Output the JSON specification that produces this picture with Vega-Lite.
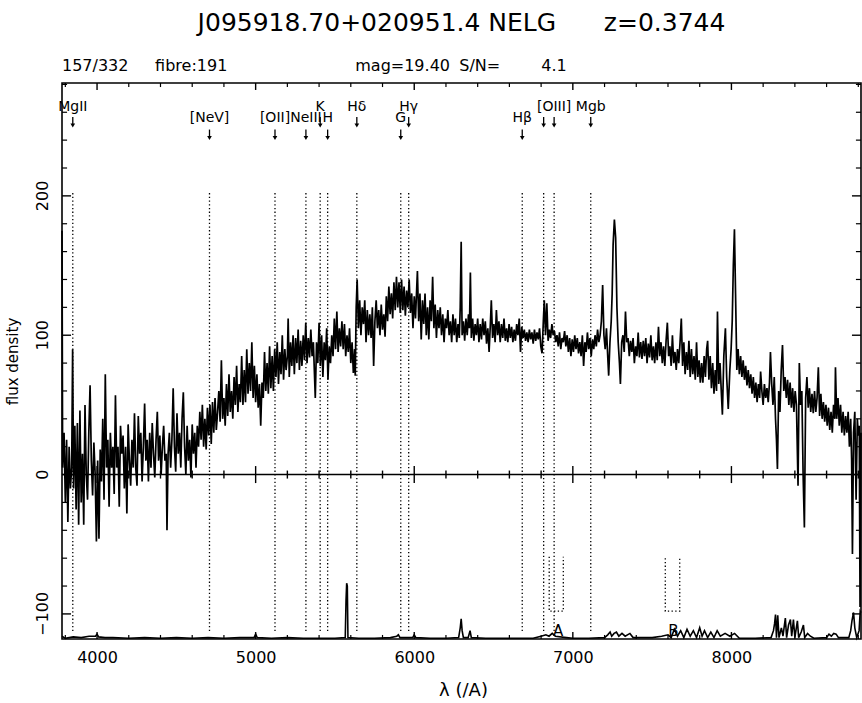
{
"$schema": "https://vega.github.io/schema/vega-lite/v6.json",
"width": 799, "height": 556,
"autosize": {"type": "none"},
"padding": {"left": 62, "top": 83, "right": 1, "bottom": 64},
"background": "white",
"title": {"text": "J095918.70+020951.4 NELG\u00a0\u00a0\u00a0\u00a0\u00a0\u00a0z=0.3744", "anchor": "middle", "frame": "group", "fontSize": 25, "font": "DejaVu Sans", "fontWeight": "normal", "color": "black", "offset": 22},
"config": {
 "view": {"stroke": "black", "strokeWidth": 1.6},
 "axis": {"grid": false, "domain": false, "tickSize": 0, "labelColor": "black", "labelFont": "DejaVu Sans", "labelFontSize": 16, "titleColor": "black", "titleFont": "DejaVu Sans", "titleFontWeight": "normal", "labelOverlap": false, "labelFlush": false},
 "text": {"font": "DejaVu Sans", "color": "black"},
 "rule": {"color": "black"}
},
"datasets": {
 "spec": [
{"w":3779,"f":175},{"w":3783,"f":5},{"w":3792,"f":30},{"w":3800,"f":-20},{"w":3808,"f":25},{"w":3816,"f":-34},{"w":3824,"f":20},{"w":3832,"f":-10},{"w":3840,"f":5},{"w":3846,"f":90},{"w":3852,"f":-10},{"w":3860,"f":35},{"w":3868,"f":-25},{"w":3876,"f":37},{"w":3884,"f":-36},{"w":3892,"f":46},{"w":3900,"f":-20},{"w":3908,"f":15},{"w":3916,"f":-36},{"w":3924,"f":50},{"w":3932,"f":0},{"w":3940,"f":-18},{"w":3948,"f":30},{"w":3956,"f":64},{"w":3964,"f":10},{"w":3972,"f":-15},{"w":3980,"f":23},{"w":3988,"f":0},{"w":3996,"f":-48},{"w":4004,"f":10},{"w":4012,"f":-46},{"w":4020,"f":18},{"w":4028,"f":-5},{"w":4036,"f":40},{"w":4044,"f":-18},{"w":4052,"f":72},{"w":4060,"f":5},{"w":4068,"f":25},{"w":4076,"f":-23},{"w":4084,"f":30},{"w":4092,"f":5},{"w":4100,"f":20},{"w":4108,"f":-14},{"w":4116,"f":57},{"w":4124,"f":5},{"w":4132,"f":20},{"w":4140,"f":-23},{"w":4148,"f":35},{"w":4156,"f":15},{"w":4164,"f":28},{"w":4172,"f":-10},{"w":4180,"f":20},{"w":4188,"f":-28},{"w":4196,"f":36},{"w":4204,"f":10},{"w":4212,"f":-8},{"w":4220,"f":25},{"w":4228,"f":5},{"w":4236,"f":44},{"w":4244,"f":5},{"w":4252,"f":-8},{"w":4260,"f":42},{"w":4268,"f":15},{"w":4276,"f":30},{"w":4284,"f":-5},{"w":4292,"f":20},{"w":4300,"f":51},{"w":4308,"f":10},{"w":4316,"f":25},{"w":4324,"f":-5},{"w":4332,"f":30},{"w":4340,"f":5},{"w":4348,"f":37},{"w":4356,"f":15},{"w":4364,"f":-2},{"w":4372,"f":25},{"w":4380,"f":45},{"w":4388,"f":10},{"w":4396,"f":28},{"w":4404,"f":0},{"w":4412,"f":20},{"w":4420,"f":35},{"w":4428,"f":10},{"w":4436,"f":15},{"w":4441,"f":-40},{"w":4448,"f":15},{"w":4456,"f":30},{"w":4464,"f":5},{"w":4472,"f":25},{"w":4480,"f":62},{"w":4488,"f":20},{"w":4496,"f":2},{"w":4504,"f":44},{"w":4512,"f":15},{"w":4520,"f":30},{"w":4528,"f":5},{"w":4536,"f":40},{"w":4544,"f":59},{"w":4552,"f":20},{"w":4560,"f":0},{"w":4568,"f":35},{"w":4576,"f":10},{"w":4584,"f":25},{"w":4592,"f":-2},{"w":4600,"f":36},{"w":4608,"f":15},{"w":4616,"f":30},{"w":4624,"f":5},{"w":4632,"f":35},{"w":4640,"f":20},{"w":4648,"f":45},{"w":4656,"f":25},{"w":4664,"f":50},{"w":4672,"f":20},{"w":4680,"f":40},{"w":4688,"f":18},{"w":4696,"f":48},{"w":4704,"f":28},{"w":4712,"f":50},{"w":4720,"f":22},{"w":4728,"f":52},{"w":4736,"f":30},{"w":4744,"f":55},{"w":4752,"f":32},{"w":4760,"f":45},{"w":4768,"f":60},{"w":4776,"f":38},{"w":4784,"f":82},{"w":4792,"f":40},{"w":4800,"f":55},{"w":4808,"f":35},{"w":4816,"f":65},{"w":4824,"f":42},{"w":4832,"f":72},{"w":4840,"f":45},{"w":4848,"f":60},{"w":4856,"f":40},{"w":4864,"f":70},{"w":4872,"f":50},{"w":4880,"f":78},{"w":4888,"f":45},{"w":4896,"f":65},{"w":4904,"f":52},{"w":4912,"f":85},{"w":4920,"f":50},{"w":4928,"f":75},{"w":4936,"f":52},{"w":4944,"f":90},{"w":4952,"f":58},{"w":4960,"f":80},{"w":4968,"f":60},{"w":4976,"f":95},{"w":4984,"f":55},{"w":4992,"f":78},{"w":5000,"f":52},{"w":5008,"f":72},{"w":5016,"f":48},{"w":5024,"f":65},{"w":5032,"f":35},{"w":5040,"f":66},{"w":5048,"f":55},{"w":5056,"f":88},{"w":5064,"f":60},{"w":5072,"f":80},{"w":5080,"f":58},{"w":5088,"f":92},{"w":5096,"f":62},{"w":5104,"f":85},{"w":5112,"f":60},{"w":5120,"f":90},{"w":5128,"f":70},{"w":5136,"f":95},{"w":5144,"f":65},{"w":5152,"f":88},{"w":5160,"f":72},{"w":5168,"f":100},{"w":5176,"f":68},{"w":5184,"f":90},{"w":5192,"f":75},{"w":5200,"f":85},{"w":5205,"f":112},{"w":5212,"f":70},{"w":5220,"f":95},{"w":5228,"f":78},{"w":5236,"f":100},{"w":5244,"f":72},{"w":5252,"f":98},{"w":5260,"f":80},{"w":5268,"f":104},{"w":5276,"f":75},{"w":5284,"f":96},{"w":5292,"f":78},{"w":5300,"f":100},{"w":5308,"f":82},{"w":5316,"f":109},{"w":5324,"f":80},{"w":5332,"f":98},{"w":5340,"f":84},{"w":5348,"f":104},{"w":5356,"f":85},{"w":5364,"f":95},{"w":5370,"f":75},{"w":5376,"f":55},{"w":5384,"f":95},{"w":5392,"f":80},{"w":5400,"f":109},{"w":5408,"f":78},{"w":5416,"f":100},{"w":5424,"f":70},{"w":5432,"f":95},{"w":5440,"f":82},{"w":5448,"f":105},{"w":5456,"f":68},{"w":5464,"f":92},{"w":5472,"f":80},{"w":5480,"f":100},{"w":5488,"f":85},{"w":5496,"f":112},{"w":5504,"f":90},{"w":5512,"f":117},{"w":5520,"f":88},{"w":5528,"f":105},{"w":5536,"f":92},{"w":5544,"f":110},{"w":5552,"f":90},{"w":5560,"f":108},{"w":5568,"f":85},{"w":5576,"f":100},{"w":5584,"f":88},{"w":5592,"f":105},{"w":5600,"f":80},{"w":5608,"f":95},{"w":5616,"f":73},{"w":5624,"f":90},{"w":5628,"f":71},{"w":5634,"f":120},{"w":5640,"f":140},{"w":5648,"f":105},{"w":5656,"f":125},{"w":5664,"f":100},{"w":5672,"f":120},{"w":5680,"f":108},{"w":5688,"f":125},{"w":5696,"f":95},{"w":5704,"f":118},{"w":5712,"f":100},{"w":5720,"f":115},{"w":5728,"f":98},{"w":5736,"f":120},{"w":5744,"f":78},{"w":5752,"f":110},{"w":5760,"f":125},{"w":5768,"f":105},{"w":5776,"f":118},{"w":5784,"f":100},{"w":5792,"f":122},{"w":5800,"f":104},{"w":5808,"f":115},{"w":5816,"f":99},{"w":5824,"f":128},{"w":5832,"f":110},{"w":5840,"f":135},{"w":5848,"f":115},{"w":5856,"f":130},{"w":5864,"f":112},{"w":5872,"f":138},{"w":5880,"f":118},{"w":5888,"f":142},{"w":5896,"f":120},{"w":5904,"f":138},{"w":5912,"f":116},{"w":5920,"f":140},{"w":5928,"f":118},{"w":5936,"f":135},{"w":5944,"f":114},{"w":5952,"f":132},{"w":5960,"f":120},{"w":5968,"f":140},{"w":5976,"f":116},{"w":5984,"f":130},{"w":5992,"f":105},{"w":6000,"f":128},{"w":6008,"f":112},{"w":6016,"f":135},{"w":6020,"f":146},{"w":6028,"f":110},{"w":6036,"f":130},{"w":6044,"f":97},{"w":6052,"f":125},{"w":6060,"f":108},{"w":6068,"f":130},{"w":6076,"f":100},{"w":6084,"f":120},{"w":6092,"f":97},{"w":6100,"f":125},{"w":6108,"f":110},{"w":6116,"f":142},{"w":6124,"f":105},{"w":6132,"f":122},{"w":6140,"f":98},{"w":6148,"f":118},{"w":6156,"f":105},{"w":6164,"f":120},{"w":6172,"f":100},{"w":6180,"f":115},{"w":6188,"f":95},{"w":6196,"f":112},{"w":6204,"f":105},{"w":6212,"f":118},{"w":6220,"f":100},{"w":6228,"f":110},{"w":6236,"f":95},{"w":6244,"f":115},{"w":6252,"f":100},{"w":6260,"f":112},{"w":6268,"f":95},{"w":6276,"f":108},{"w":6284,"f":98},{"w":6290,"f":120},{"w":6296,"f":167},{"w":6302,"f":100},{"w":6310,"f":110},{"w":6318,"f":96},{"w":6326,"f":112},{"w":6334,"f":100},{"w":6342,"f":115},{"w":6348,"f":105},{"w":6354,"f":145},{"w":6360,"f":98},{"w":6368,"f":112},{"w":6376,"f":96},{"w":6384,"f":108},{"w":6392,"f":100},{"w":6400,"f":112},{"w":6408,"f":95},{"w":6416,"f":108},{"w":6424,"f":97},{"w":6432,"f":112},{"w":6440,"f":100},{"w":6448,"f":110},{"w":6456,"f":94},{"w":6464,"f":105},{"w":6472,"f":88},{"w":6480,"f":108},{"w":6486,"f":125},{"w":6494,"f":98},{"w":6502,"f":108},{"w":6510,"f":95},{"w":6518,"f":118},{"w":6526,"f":100},{"w":6534,"f":110},{"w":6542,"f":95},{"w":6550,"f":108},{"w":6558,"f":98},{"w":6566,"f":112},{"w":6574,"f":96},{"w":6582,"f":105},{"w":6590,"f":95},{"w":6598,"f":108},{"w":6606,"f":98},{"w":6614,"f":106},{"w":6622,"f":95},{"w":6630,"f":104},{"w":6638,"f":96},{"w":6646,"f":108},{"w":6654,"f":100},{"w":6662,"f":112},{"w":6670,"f":88},{"w":6678,"f":106},{"w":6686,"f":98},{"w":6694,"f":104},{"w":6702,"f":96},{"w":6710,"f":102},{"w":6718,"f":95},{"w":6726,"f":104},{"w":6734,"f":97},{"w":6742,"f":102},{"w":6750,"f":94},{"w":6758,"f":104},{"w":6766,"f":96},{"w":6774,"f":102},{"w":6782,"f":97},{"w":6790,"f":105},{"w":6798,"f":92},{"w":6806,"f":87},{"w":6814,"f":110},{"w":6820,"f":125},{"w":6828,"f":100},{"w":6836,"f":123},{"w":6844,"f":96},{"w":6852,"f":104},{"w":6860,"f":98},{"w":6868,"f":108},{"w":6876,"f":100},{"w":6884,"f":103},{"w":6892,"f":95},{"w":6900,"f":100},{"w":6908,"f":92},{"w":6916,"f":102},{"w":6924,"f":90},{"w":6932,"f":98},{"w":6940,"f":95},{"w":6948,"f":103},{"w":6956,"f":92},{"w":6964,"f":100},{"w":6972,"f":88},{"w":6980,"f":98},{"w":6988,"f":85},{"w":6996,"f":97},{"w":7004,"f":88},{"w":7012,"f":100},{"w":7020,"f":90},{"w":7028,"f":98},{"w":7036,"f":87},{"w":7044,"f":95},{"w":7052,"f":85},{"w":7060,"f":100},{"w":7068,"f":78},{"w":7076,"f":95},{"w":7084,"f":88},{"w":7092,"f":102},{"w":7100,"f":90},{"w":7108,"f":98},{"w":7116,"f":85},{"w":7124,"f":97},{"w":7132,"f":90},{"w":7140,"f":100},{"w":7148,"f":92},{"w":7156,"f":104},{"w":7164,"f":95},{"w":7172,"f":100},{"w":7180,"f":110},{"w":7188,"f":136},{"w":7196,"f":100},{"w":7204,"f":90},{"w":7212,"f":105},{"w":7220,"f":85},{"w":7226,"f":71},{"w":7234,"f":95},{"w":7242,"f":110},{"w":7248,"f":130},{"w":7254,"f":165},{"w":7262,"f":183},{"w":7270,"f":170},{"w":7278,"f":120},{"w":7286,"f":95},{"w":7294,"f":80},{"w":7300,"f":65},{"w":7308,"f":95},{"w":7316,"f":100},{"w":7324,"f":88},{"w":7332,"f":117},{"w":7340,"f":95},{"w":7348,"f":98},{"w":7356,"f":85},{"w":7364,"f":96},{"w":7372,"f":88},{"w":7380,"f":98},{"w":7388,"f":80},{"w":7396,"f":92},{"w":7404,"f":85},{"w":7412,"f":102},{"w":7420,"f":84},{"w":7428,"f":95},{"w":7436,"f":83},{"w":7444,"f":96},{"w":7452,"f":85},{"w":7460,"f":98},{"w":7468,"f":80},{"w":7476,"f":94},{"w":7484,"f":84},{"w":7492,"f":100},{"w":7500,"f":82},{"w":7508,"f":92},{"w":7516,"f":80},{"w":7524,"f":95},{"w":7532,"f":82},{"w":7540,"f":106},{"w":7548,"f":85},{"w":7556,"f":95},{"w":7564,"f":80},{"w":7572,"f":92},{"w":7580,"f":78},{"w":7588,"f":96},{"w":7596,"f":109},{"w":7604,"f":85},{"w":7612,"f":92},{"w":7620,"f":78},{"w":7628,"f":100},{"w":7636,"f":80},{"w":7644,"f":88},{"w":7652,"f":75},{"w":7660,"f":90},{"w":7668,"f":80},{"w":7676,"f":95},{"w":7684,"f":112},{"w":7692,"f":78},{"w":7700,"f":95},{"w":7708,"f":72},{"w":7716,"f":88},{"w":7724,"f":75},{"w":7732,"f":96},{"w":7740,"f":70},{"w":7748,"f":90},{"w":7756,"f":72},{"w":7764,"f":85},{"w":7772,"f":68},{"w":7780,"f":95},{"w":7788,"f":70},{"w":7796,"f":82},{"w":7804,"f":66},{"w":7812,"f":80},{"w":7820,"f":66},{"w":7828,"f":85},{"w":7836,"f":70},{"w":7844,"f":90},{"w":7850,"f":96},{"w":7858,"f":68},{"w":7866,"f":85},{"w":7874,"f":62},{"w":7882,"f":80},{"w":7890,"f":58},{"w":7898,"f":75},{"w":7906,"f":60},{"w":7912,"f":117},{"w":7920,"f":65},{"w":7928,"f":80},{"w":7936,"f":60},{"w":7943,"f":43},{"w":7952,"f":85},{"w":7962,"f":105},{"w":7970,"f":70},{"w":7980,"f":47},{"w":7990,"f":75},{"w":7998,"f":90},{"w":8005,"f":110},{"w":8012,"f":150},{"w":8019,"f":176},{"w":8026,"f":130},{"w":8034,"f":75},{"w":8042,"f":90},{"w":8050,"f":72},{"w":8058,"f":85},{"w":8066,"f":70},{"w":8074,"f":82},{"w":8082,"f":68},{"w":8090,"f":78},{"w":8098,"f":64},{"w":8106,"f":75},{"w":8114,"f":62},{"w":8122,"f":72},{"w":8130,"f":58},{"w":8138,"f":70},{"w":8146,"f":55},{"w":8154,"f":66},{"w":8162,"f":52},{"w":8170,"f":65},{"w":8178,"f":55},{"w":8184,"f":74},{"w":8192,"f":60},{"w":8200,"f":50},{"w":8208,"f":65},{"w":8216,"f":55},{"w":8224,"f":62},{"w":8232,"f":52},{"w":8240,"f":66},{"w":8246,"f":88},{"w":8254,"f":65},{"w":8262,"f":50},{"w":8270,"f":70},{"w":8278,"f":40},{"w":8284,"f":25},{"w":8290,"f":4},{"w":8298,"f":60},{"w":8306,"f":45},{"w":8314,"f":75},{"w":8322,"f":93},{"w":8330,"f":60},{"w":8338,"f":70},{"w":8346,"f":55},{"w":8354,"f":68},{"w":8362,"f":50},{"w":8370,"f":66},{"w":8378,"f":48},{"w":8386,"f":62},{"w":8394,"f":45},{"w":8402,"f":60},{"w":8410,"f":50},{"w":8420,"f":-8},{"w":8428,"f":80},{"w":8436,"f":50},{"w":8444,"f":60},{"w":8452,"f":0},{"w":8460,"f":-38},{"w":8468,"f":55},{"w":8476,"f":70},{"w":8484,"f":48},{"w":8492,"f":62},{"w":8500,"f":45},{"w":8508,"f":58},{"w":8516,"f":44},{"w":8524,"f":60},{"w":8532,"f":45},{"w":8540,"f":55},{"w":8548,"f":77},{"w":8556,"f":42},{"w":8564,"f":58},{"w":8572,"f":40},{"w":8580,"f":52},{"w":8588,"f":38},{"w":8596,"f":50},{"w":8604,"f":35},{"w":8612,"f":48},{"w":8620,"f":32},{"w":8628,"f":45},{"w":8636,"f":30},{"w":8644,"f":50},{"w":8652,"f":40},{"w":8656,"f":77},{"w":8664,"f":40},{"w":8672,"f":55},{"w":8680,"f":35},{"w":8688,"f":50},{"w":8696,"f":30},{"w":8704,"f":45},{"w":8712,"f":28},{"w":8720,"f":42},{"w":8728,"f":30},{"w":8736,"f":45},{"w":8744,"f":20},{"w":8752,"f":40},{"w":8758,"f":10},{"w":8763,"f":-57},{"w":8770,"f":30},{"w":8778,"f":45},{"w":8786,"f":-18},{"w":8794,"f":40},{"w":8800,"f":28},{"w":8806,"f":35},{"w":8811,"f":-95},{"w":8817,"f":30}
 ],
 "sky": [
{"w":3779,"s":-116},{"w":3800,"s":-117.5},{"w":3850,"s":-116.5},{"w":3900,"s":-117},{"w":3950,"s":-116},{"w":3990,"s":-116},{"w":4000,"s":-114.5},{"w":4010,"s":-116.5},{"w":4050,"s":-117},{"w":4100,"s":-117},{"w":4200,"s":-117.5},{"w":4300,"s":-117},{"w":4400,"s":-117.5},{"w":4500,"s":-117},{"w":4600,"s":-117.5},{"w":4700,"s":-117},{"w":4800,"s":-117.5},{"w":4900,"s":-117},{"w":4990,"s":-117},{"w":5000,"s":-114.5},{"w":5010,"s":-117},{"w":5100,"s":-117.5},{"w":5200,"s":-117},{"w":5300,"s":-117.5},{"w":5400,"s":-117.5},{"w":5500,"s":-117.5},{"w":5565,"s":-117},{"w":5570,"s":-90},{"w":5574,"s":-78},{"w":5578,"s":-80},{"w":5582,"s":-117},{"w":5650,"s":-117.5},{"w":5750,"s":-117.5},{"w":5850,"s":-117},{"w":5890,"s":-116},{"w":5900,"s":-115},{"w":5910,"s":-117},{"w":5990,"s":-117},{"w":6000,"s":-115},{"w":6010,"s":-117},{"w":6100,"s":-117.5},{"w":6200,"s":-117.5},{"w":6280,"s":-117},{"w":6290,"s":-110},{"w":6296,"s":-103.5},{"w":6302,"s":-112},{"w":6310,"s":-117},{"w":6340,"s":-117},{"w":6352,"s":-112},{"w":6360,"s":-117},{"w":6450,"s":-117.5},{"w":6550,"s":-117.5},{"w":6650,"s":-117.5},{"w":6750,"s":-117.5},{"w":6800,"s":-116},{"w":6830,"s":-115},{"w":6850,"s":-116},{"w":6870,"s":-114},{"w":6890,"s":-116},{"w":6960,"s":-117},{"w":7000,"s":-117.5},{"w":7100,"s":-117.5},{"w":7200,"s":-117},{"w":7220,"s":-115},{"w":7235,"s":-113},{"w":7245,"s":-116},{"w":7260,"s":-114},{"w":7275,"s":-113},{"w":7290,"s":-116},{"w":7310,"s":-114},{"w":7330,"s":-116},{"w":7360,"s":-114},{"w":7380,"s":-117},{"w":7500,"s":-117},{"w":7560,"s":-116},{"w":7600,"s":-115},{"w":7620,"s":-117},{"w":7640,"s":-111},{"w":7660,"s":-116},{"w":7680,"s":-112},{"w":7700,"s":-117},{"w":7720,"s":-111},{"w":7740,"s":-116},{"w":7760,"s":-112},{"w":7780,"s":-117},{"w":7800,"s":-110},{"w":7815,"s":-116},{"w":7830,"s":-112},{"w":7850,"s":-117},{"w":7870,"s":-113},{"w":7890,"s":-117},{"w":7910,"s":-112},{"w":7930,"s":-116},{"w":7960,"s":-114},{"w":7990,"s":-116},{"w":8020,"s":-114},{"w":8050,"s":-117.5},{"w":8150,"s":-117.5},{"w":8250,"s":-117},{"w":8265,"s":-112},{"w":8272,"s":-107},{"w":8278,"s":-100.5},{"w":8284,"s":-117},{"w":8292,"s":-101},{"w":8300,"s":-117},{"w":8315,"s":-110},{"w":8325,"s":-116},{"w":8340,"s":-103},{"w":8348,"s":-117},{"w":8360,"s":-108},{"w":8372,"s":-104},{"w":8380,"s":-116},{"w":8391,"s":-104},{"w":8400,"s":-117},{"w":8416,"s":-105},{"w":8424,"s":-117},{"w":8440,"s":-113},{"w":8454,"s":-108},{"w":8462,"s":-117},{"w":8480,"s":-114},{"w":8498,"s":-116},{"w":8520,"s":-117.5},{"w":8600,"s":-117},{"w":8615,"s":-114.5},{"w":8630,"s":-116},{"w":8645,"s":-114},{"w":8660,"s":-114.5},{"w":8675,"s":-117},{"w":8740,"s":-117},{"w":8752,"s":-112},{"w":8760,"s":-105},{"w":8770,"s":-99},{"w":8778,"s":-110},{"w":8790,"s":-117},{"w":8805,"s":-112},{"w":8812,"s":-98},{"w":8817,"s":-99}
 ],
 "zt": [{"t":3800},{"t":4000},{"t":4200},{"t":4400},{"t":4600},{"t":4800},{"t":5000},{"t":5200},{"t":5400},{"t":5600},{"t":5800},{"t":6000},{"t":6200},{"t":6400},{"t":6600},{"t":6800},{"t":7000},{"t":7200},{"t":7400},{"t":7600},{"t":7800},{"t":8000},{"t":8200},{"t":8400},{"t":8600},{"t":8800}],
 "yt": [{"v":-100},{"v":-80},{"v":-60},{"v":-40},{"v":-20},{"v":0},{"v":20},{"v":40},{"v":60},{"v":80},{"v":100},{"v":120},{"v":140},{"v":160},{"v":180},{"v":200},{"v":220},{"v":240},{"v":260},{"v":280}],
 "lines": [{"w":3847},{"w":4709},{"w":5122},{"w":5317},{"w":5407},{"w":5454},{"w":5638},{"w":5915},{"w":5965},{"w":6681},{"w":6816},{"w":6882},{"w":7113}],
 "labels": [{"lab":"MgII","w":3847,"y":264},{"lab":"[NeV]","w":4709,"y":256},{"lab":"[OII]","w":5122,"y":256},{"lab":"NeIII","w":5317,"y":256},{"lab":"K","w":5407,"y":264},{"lab":"H","w":5454,"y":256},{"lab":"Hδ","w":5638,"y":264},{"lab":"G","w":5915,"y":256},{"lab":"Hγ","w":5965,"y":264},{"lab":"Hβ","w":6681,"y":256},{"lab":"[OIII]","w":6882,"y":264},{"lab":"Mgb","w":7113,"y":264}],
 "arrows": [{"w":3847,"y":253},{"w":4709,"y":244},{"w":5122,"y":244},{"w":5317,"y":244},{"w":5407,"y":253},{"w":5454,"y":244},{"w":5638,"y":253},{"w":5915,"y":244},{"w":5965,"y":253},{"w":6681,"y":244},{"w":6816,"y":253},{"w":6882,"y":253},{"w":7113,"y":253}],
 "bands": [{"b":"A","k":1,"w":6851,"f":-59},{"b":"A","k":2,"w":6851,"f":-98},{"b":"A","k":3,"w":6940,"f":-98},{"b":"A","k":4,"w":6940,"f":-59},{"b":"B","k":1,"w":7583,"f":-60},{"b":"B","k":2,"w":7583,"f":-98},{"b":"B","k":3,"w":7674,"f":-98},{"b":"B","k":4,"w":7674,"f":-60}],
 "bandlab": [{"lab":"A","w":6908,"y":-112.5},{"lab":"B","w":7634,"y":-112}],
 "header": [{"txt":"157/332","w":3779,"y":293},{"txt":"fibre:191","w":4366,"y":293},{"txt":"mag=19.40","w":5628,"y":293},{"txt":"S/N=","w":6284,"y":293},{"txt":"4.1","w":6801,"y":293}]
},
"layer": [
 {"data": {"name": "spec"}, "mark": {"type": "line", "color": "black", "strokeWidth": 1.7},
  "encoding": {
   "x": {"field": "w", "type": "quantitative", "scale": {"domain": [3779, 8817], "nice": false, "zero": false},
     "axis": {"orient": "bottom", "values": [4000,5000,6000,7000,8000], "format": "d", "ticks": false, "labelPadding": 18, "labelBaseline": "middle", "title": "λ (/A)", "titleFontSize": 18, "titleX": 401, "titleY": 51, "titleBaseline": "middle", "titleAlign": "center"}},
   "y": {"field": "f", "type": "quantitative", "scale": {"domain": [-118, 281], "nice": false, "zero": false},
     "axis": {"orient": "left", "values": [0], "labels": false, "ticks": false, "title": "flux density", "titleFontSize": 15, "titleX": -50, "titleY": 278, "titleAngle": 270, "titleBaseline": "middle", "titleAlign": "center"}}
  }},
 {"data": {"name": "sky"}, "mark": {"type": "line", "color": "black", "strokeWidth": 1.6},
  "encoding": {
   "x": {"field": "w", "type": "quantitative", "axis": null},
   "y": {"field": "s", "type": "quantitative", "axis": null}
  }},
 {"data": {"values": [{}]}, "mark": {"type": "rule", "color": "black", "strokeWidth": 1.5},
  "encoding": {"y": {"datum": 0, "axis": null}}},
 {"data": {"name": "zt"}, "mark": {"type": "tick", "orient": "vertical", "color": "black", "thickness": 1.4, "opacity": 1},
  "encoding": {"x": {"field": "t", "type": "quantitative", "axis": null}, "y": {"datum": 0, "axis": null},
   "size": {"condition": {"test": "datum.t % 1000 === 0", "value": 17}, "value": 8}}},
 {"data": {"name": "zt"}, "transform": [{"filter": "datum.t % 1000 === 0"}], "mark": {"type": "rule", "strokeWidth": 1.4},
  "encoding": {"x": {"field": "t", "type": "quantitative", "axis": null}, "y": {"datum": -118, "axis": null}, "y2": {"datum": -113}}},
 {"data": {"name": "zt"}, "transform": [{"filter": "datum.t % 1000 !== 0"}], "mark": {"type": "rule", "strokeWidth": 1.2},
  "encoding": {"x": {"field": "t", "type": "quantitative", "axis": null}, "y": {"datum": -118, "axis": null}, "y2": {"datum": -115.1}}},
 {"data": {"name": "zt"}, "transform": [{"filter": "datum.t % 1000 === 0"}], "mark": {"type": "rule", "strokeWidth": 1.4},
  "encoding": {"x": {"field": "t", "type": "quantitative", "axis": null}, "y": {"datum": 281, "axis": null}, "y2": {"datum": 276}}},
 {"data": {"name": "zt"}, "transform": [{"filter": "datum.t % 1000 !== 0"}], "mark": {"type": "rule", "strokeWidth": 1.2},
  "encoding": {"x": {"field": "t", "type": "quantitative", "axis": null}, "y": {"datum": 281, "axis": null}, "y2": {"datum": 278.1}}},
 {"data": {"name": "yt"}, "transform": [{"filter": "datum.v % 100 === 0"}], "mark": {"type": "rule", "strokeWidth": 1.4},
  "encoding": {"y": {"field": "v", "type": "quantitative", "axis": null}, "x": {"datum": 3779, "axis": null}, "x2": {"datum": 3836}}},
 {"data": {"name": "yt"}, "transform": [{"filter": "datum.v % 100 !== 0"}], "mark": {"type": "rule", "strokeWidth": 1.2},
  "encoding": {"y": {"field": "v", "type": "quantitative", "axis": null}, "x": {"datum": 3779, "axis": null}, "x2": {"datum": 3811}}},
 {"data": {"name": "yt"}, "transform": [{"filter": "datum.v % 100 === 0"}], "mark": {"type": "rule", "strokeWidth": 1.4},
  "encoding": {"y": {"field": "v", "type": "quantitative", "axis": null}, "x": {"datum": 8817, "axis": null}, "x2": {"datum": 8760}}},
 {"data": {"name": "yt"}, "transform": [{"filter": "datum.v % 100 !== 0"}], "mark": {"type": "rule", "strokeWidth": 1.2},
  "encoding": {"y": {"field": "v", "type": "quantitative", "axis": null}, "x": {"datum": 8817, "axis": null}, "x2": {"datum": 8785}}},
 {"data": {"name": "yt"}, "transform": [{"filter": "datum.v % 100 === 0"}], "mark": {"type": "text", "angle": 270, "fontSize": 16, "align": "center", "baseline": "middle", "xOffset": -19},
  "encoding": {"y": {"field": "v", "type": "quantitative", "axis": null}, "x": {"datum": 3779, "axis": null}, "text": {"field": "v", "type": "quantitative", "format": "d"}}},
 {"data": {"name": "lines"}, "mark": {"type": "rule", "color": "black", "strokeWidth": 1.3, "strokeDash": [1.3, 2.4]},
  "encoding": {"x": {"field": "w", "type": "quantitative", "axis": null}, "y": {"datum": 202, "axis": null}, "y2": {"datum": -114}}},
 {"data": {"name": "bands"}, "mark": {"type": "line", "color": "black", "strokeWidth": 1.3, "strokeDash": [1.3, 2.4]},
  "encoding": {"x": {"field": "w", "type": "quantitative", "axis": null}, "y": {"field": "f", "type": "quantitative", "axis": null}, "detail": {"field": "b"}, "order": {"field": "k"}}},
 {"data": {"name": "bandlab"}, "mark": {"type": "text", "fontSize": 15, "baseline": "middle", "align": "center"},
  "encoding": {"x": {"field": "w", "type": "quantitative", "axis": null}, "y": {"field": "y", "type": "quantitative", "axis": null}, "text": {"field": "lab"}}},
 {"data": {"name": "labels"}, "mark": {"type": "text", "fontSize": 14, "baseline": "middle", "align": "center"},
  "encoding": {"x": {"field": "w", "type": "quantitative", "axis": null}, "y": {"field": "y", "type": "quantitative", "axis": null}, "text": {"field": "lab"}}},
 {"data": {"name": "arrows"}, "mark": {"type": "tick", "orient": "vertical", "color": "black", "thickness": 1.3, "size": 8, "yOffset": -1, "opacity": 1},
  "encoding": {"x": {"field": "w", "type": "quantitative", "axis": null}, "y": {"field": "y", "type": "quantitative", "axis": null}}},
 {"data": {"name": "arrows"}, "mark": {"type": "point", "shape": "triangle-down", "filled": true, "color": "black", "size": 22, "yOffset": 3.5, "opacity": 1},
  "encoding": {"x": {"field": "w", "type": "quantitative", "axis": null}, "y": {"field": "y", "type": "quantitative", "axis": null}}},
 {"data": {"name": "header"}, "mark": {"type": "text", "fontSize": 16, "baseline": "middle", "align": "left"},
  "encoding": {"x": {"field": "w", "type": "quantitative", "axis": null}, "y": {"field": "y", "type": "quantitative", "axis": null}, "text": {"field": "txt"}}}
],
"resolve": {"axis": {"x": "independent", "y": "independent"}}
}
